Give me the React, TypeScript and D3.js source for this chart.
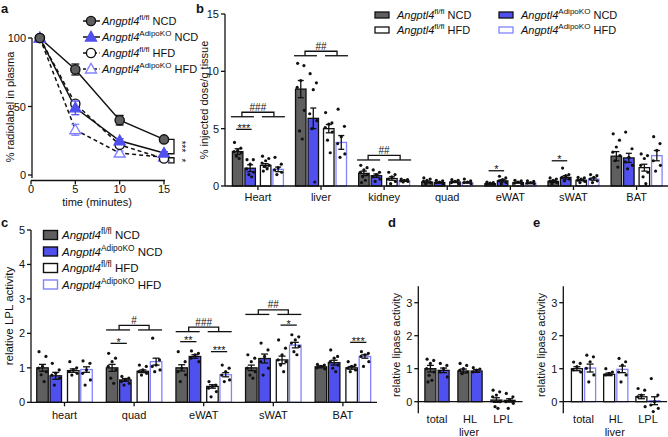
import React, { useEffect } from "react";
import * as d3 from "d3";

const FONT = "'Liberation Sans', Arial, Helvetica, sans-serif";
const INK = "#111";
const GRAY = "#5f5f5f";
const BLUE = "#5050ee";
const LBLUE = "#8383ff";
const FILL = [GRAY, BLUE, "#ffffff", "#ffffff"];
const STROKE = [INK, INK, INK, LBLUE];
const groupSup = ["fl/fl", "AdipoKO", "fl/fl", "AdipoKO"];
const groupDiet = ["NCD", "NCD", "HFD", "HFD"];

// ---------- panel a ----------
const aTimes = [1, 5, 10, 15];
const aFlNCD = [100, 77, 40, 26];
const aKoNCD = [100, 49, 25, 16];
const aFlHFD = [100, 52, 22, 12];
const aKoHFD = [100, 33, 16, 13];
const aFlNCDErr = [0, 4, 3.5, 1.5];
const aKoNCDErr = [0, 5, 1.5, 1];
const aFlHFDErr = [0, 2, 2, 1];
const aKoHFDErr = [0, 4, 1.5, 1];
const aXTicks = [0, 5, 10, 15];
const aYTicks = [0, 50, 100];

// ---------- panel b ----------
const bCats = ["Heart", "liver", "kidney", "quad", "eWAT", "sWAT", "BAT"];
const bFlNCD = [3.0, 8.45, 1.1, 0.35, 0.2, 0.4, 2.6];
const bKoNCD = [1.55, 5.9, 0.9, 0.3, 0.45, 0.75, 2.45];
const bFlHFD = [1.8, 5.0, 0.65, 0.35, 0.3, 0.5, 1.6];
const bKoHFD = [1.45, 3.8, 0.45, 0.3, 0.25, 0.6, 2.65];
const bFlNCDErr = [0.25, 0.75, 0.2, 0.08, 0.04, 0.08, 0.4];
const bKoNCDErr = [0.3, 0.9, 0.15, 0.05, 0.1, 0.15, 0.4];
const bFlHFDErr = [0.15, 0.36, 0.15, 0.05, 0.05, 0.05, 0.3];
const bKoHFDErr = [0.2, 0.6, 0.05, 0.05, 0.05, 0.1, 0.45];
const bDotsFlNCD = [
  [3.8, 3.3, 3.1, 3.0, 2.9, 2.6, 2.4],
  [10.7, 10.5, 9.2, 8.6, 6.6, 4.8, 4.1],
  [1.8, 1.6, 1.4, 1.2, 1.0, 0.8, 0.5, 0.3],
  [0.7, 0.6, 0.5, 0.4, 0.3, 0.2],
  [0.35, 0.3, 0.25, 0.2, 0.15],
  [0.7, 0.6, 0.5, 0.4, 0.3, 0.2],
  [4.55, 4.0, 3.4, 2.95, 2.65, 2.2, 1.65],
];
const bDotsKoNCD = [
  [2.3, 2.3, 1.9, 1.5, 1.2, 1.0, 0.8],
  [9.8, 9.0, 8.4, 6.3, 5.7, 5.0, 0.35],
  [1.4, 1.2, 1.0, 0.8, 0.6, 0.4],
  [0.5, 0.45, 0.35, 0.3, 0.2],
  [0.85, 0.7, 0.55, 0.45, 0.3, 0.2],
  [1.56, 1.0, 0.9, 0.75, 0.6, 0.45],
  [4.7, 3.25, 2.5, 2.1, 1.8, 1.5],
];
const bDotsFlHFD = [
  [2.6, 2.4, 2.2, 2.0, 1.8, 1.7, 1.5, 1.3],
  [6.4, 5.5, 5.4, 5.1, 4.7, 4.0, 2.9],
  [1.2, 1.0, 0.8, 0.6, 0.4, 0.2],
  [0.55, 0.5, 0.4, 0.3, 0.2],
  [0.5, 0.45, 0.35, 0.25, 0.2],
  [0.75, 0.7, 0.6, 0.5, 0.4, 0.3],
  [2.8, 2.65, 2.4, 1.8, 1.2, 0.8, 0.2],
];
const bDotsKoHFD = [
  [2.5, 1.9, 1.6, 1.4, 1.2, 1.0],
  [6.7, 5.2, 4.3, 3.7, 2.8, 2.5],
  [0.6, 0.55, 0.5, 0.45, 0.4, 0.35],
  [0.6, 0.45, 0.35, 0.3, 0.2],
  [0.45, 0.4, 0.3, 0.25, 0.2],
  [1.0, 0.9, 0.75, 0.6, 0.45, 0.3],
  [4.3, 3.7, 3.1, 2.2, 1.8, 1.3],
];
const bYTicks = [0, 5, 10, 15];
const bPairSig = [
  { cat: "Heart", a: 0, b: 1, y: 4.94, label: "***" },
  { cat: "eWAT", a: 0, b: 1, y: 1.33, label: "*" },
  { cat: "sWAT", a: 0, b: 1, y: 2.2, label: "*" },
];
const bGroupSig = [
  { cat: "Heart", y: 6.04, label: "###" },
  { cat: "liver", y: 11.36, label: "##" },
  { cat: "kidney", y: 2.27, label: "##" },
];

// ---------- panel c ----------
const cCats = ["heart", "quad", "eWAT", "sWAT", "BAT"];
const cFlNCD = [1.0, 1.0, 1.0, 1.0, 1.03];
const cKoNCD = [0.77, 0.65, 1.33, 1.27, 1.15];
const cFlHFD = [0.92, 0.9, 0.46, 1.23, 1.0];
const cKoHFD = [0.95, 1.18, 0.8, 1.66, 1.33];
const cFlNCDErr = [0.1, 0.1, 0.09, 0.08, 0.03];
const cKoNCDErr = [0.1, 0.04, 0.05, 0.13, 0.07];
const cFlHFDErr = [0.05, 0.04, 0.05, 0.11, 0.04];
const cKoHFDErr = [0.08, 0.1, 0.06, 0.08, 0.05];
const cDotsFlNCD = [
  [1.47, 1.33, 1.04, 0.99, 0.89, 0.8, 0.6],
  [1.42, 1.28, 1.18, 1.04, 0.94, 0.7, 0.55],
  [1.47, 1.18, 0.99, 0.89, 0.8, 0.6],
  [1.38, 1.28, 1.18, 0.99, 0.89, 0.79, 0.7],
  [1.1, 1.08, 1.04, 1.0, 0.97],
];
const cDotsKoNCD = [
  [1.13, 0.94, 0.84, 0.79, 0.7, 0.5],
  [0.75, 0.7, 0.65, 0.6, 0.55, 0.5],
  [1.49, 1.42, 1.38, 1.28, 1.18],
  [1.72, 1.52, 1.33, 1.18, 0.99, 0.79],
  [1.52, 1.33, 1.28, 1.18, 1.08, 0.99, 0.89],
];
const cDotsFlHFD = [
  [1.18, 1.0, 0.94, 0.89, 0.84, 0.79],
  [1.08, 1.04, 0.94, 0.89, 0.84, 0.79],
  [0.6, 0.5, 0.46, 0.41, 0.31, 0.16],
  [1.81, 1.57, 1.38, 1.23, 1.18, 1.08, 0.89],
  [1.18, 1.08, 1.04, 0.99, 0.94, 0.89],
];
const cDotsKoHFD = [
  [1.2, 1.13, 0.94, 0.84, 0.65, 0.5],
  [1.86, 1.23, 1.08, 1.04, 0.94, 0.89],
  [1.08, 0.99, 0.89, 0.79, 0.65, 0.6],
  [1.96, 1.9, 1.81, 1.72, 1.62, 1.47, 1.38],
  [1.47, 1.42, 1.38, 1.33, 1.18, 1.04],
];
const cYTicks = [0, 1, 2, 3, 4, 5];
const cPairSig = [
  { cat: "quad", a: 0, b: 1, y: 1.71, label: "*" },
  { cat: "eWAT", a: 0, b: 1, y: 1.76, label: "**" },
  { cat: "eWAT", a: 2, b: 3, y: 1.47, label: "***" },
  { cat: "sWAT", a: 2, b: 3, y: 2.24, label: "*" },
  { cat: "BAT", a: 2, b: 3, y: 1.74, label: "***" },
];
const cGroupSig = [
  { cat: "quad", y: 2.1, label: "#" },
  { cat: "eWAT", y: 2.05, label: "###" },
  { cat: "sWAT", y: 2.55, label: "##" },
];

// ---------- panels d, e ----------
const deCats = ["total", "HL", "LPL"];
const dFlNCD = [1.0, 0.93, 0.05];
const dKoNCD = [0.95, 0.93, 0.04];
const dFlNCDErr = [0.1, 0.06, 0.07];
const dKoNCDErr = [0.07, 0.04, 0.05];
const dDotsFlNCD = [
  [1.29, 1.25, 1.16, 1.0, 0.9, 0.8, 0.65, 0.6],
  [1.16, 1.1, 1.0, 0.95, 0.9, 0.85],
  [0.35, 0.3, 0.2, 0.15, 0.0, -0.15, -0.2],
];
const dDotsKoNCD = [
  [1.16, 1.1, 1.0, 0.9, 0.75],
  [1.03, 0.99, 0.96, 0.9],
  [0.25, 0.15, 0.05, 0.0, -0.05, -0.2],
];
const eFlHFD = [1.0, 0.83, 0.15];
const eKoHFD = [1.02, 0.98, 0.03];
const eFlHFDErr = [0.06, 0.04, 0.06];
const eKoHFDErr = [0.12, 0.1, 0.12];
const eDotsFlHFD = [
  [1.2, 1.16, 1.06, 0.96, 0.9],
  [1.0, 0.9, 0.86, 0.81],
  [0.4, 0.35, 0.2, 0.15, -0.15],
];
const eDotsKoHFD = [
  [1.41, 1.36, 1.21, 1.01, 0.81, 0.6],
  [1.31, 1.21, 1.11, 0.9, 0.81, 0.6],
  [0.7, 0.2, 0.0, -0.1, -0.2, -0.3],
];
const deYTicks = [0, 1, 2, 3];

// ---------- helpers ----------
const JIT = [-0.3, 0.3, 0, -0.34, 0.34, -0.12, 0.14, -0.22, 0.22];

function GenoLabel({ x, y, sup, diet, fs = 11 }: any) {
  return (
    <text x={x} y={y} fontSize={fs} fontFamily={FONT} fill={INK}>
      <tspan fontStyle="italic">Angptl4</tspan>
      <tspan fontSize={fs * 0.73} dy={-fs * 0.42}>{sup}</tspan>
      <tspan dy={fs * 0.42}>{"\u00a0" + diet}</tspan>
    </text>
  );
}

function YAxis({ x, y, ticks, y0, y1, fs = 11 }: any) {
  return (
    <g>
      <line x1={x} x2={x} y1={y0} y2={y1} stroke={INK} strokeWidth={1.3} />
      {ticks.map((t: number) => (
        <g key={t}>
          <line x1={x - 4} x2={x} y1={y(t)} y2={y(t)} stroke={INK} strokeWidth={1.3} />
          <text x={x - 6} y={y(t) + 4} textAnchor="end" fontSize={fs} fontFamily={FONT} fill={INK}>
            {t}
          </text>
        </g>
      ))}
    </g>
  );
}

function BarGroups({ cats, x, y, series, errs, dots, groups, offsets, barW, capW, dotR }: any) {
  const y0 = y(0);
  return (
    <g>
      {cats.map((c: string, ci: number) => {
        const cx = x(c) + x.bandwidth() / 2;
        return (
          <g key={c}>
            {groups.map((g: number, si: number) => {
              const bx = cx + offsets[si];
              const m = series[si][ci];
              const ym = y(m);
              return (
                <rect key={"r" + si} x={bx - barW / 2} y={Math.min(y0, ym)} width={barW}
                  height={Math.abs(y0 - ym)} fill={FILL[g]} stroke={STROKE[g]} strokeWidth={1.3} />
              );
            })}
            {groups.map((g: number, si: number) => {
              const bx = cx + offsets[si];
              return dots[si][ci].map((v: number, k: number) => (
                <circle key={"d" + si + "_" + k} cx={bx + JIT[k % JIT.length] * barW} cy={y(v)} r={dotR} fill={INK} />
              ));
            })}
            {groups.map((g: number, si: number) => {
              const bx = cx + offsets[si];
              const m = series[si][ci];
              const e = errs[si][ci];
              const ya = y(m + e), yb = y(m - e);
              return (
                <g key={"e" + si} stroke={INK} strokeWidth={1.3}>
                  <line x1={bx} x2={bx} y1={ya} y2={yb} />
                  <line x1={bx - capW / 2} x2={bx + capW / 2} y1={ya} y2={ya} />
                  <line x1={bx - capW / 2} x2={bx + capW / 2} y1={yb} y2={yb} />
                </g>
              );
            })}
          </g>
        );
      })}
    </g>
  );
}

function PairSig({ sig, x, y, offsets }: any) {
  return (
    <g>
      {sig.map((s: any, i: number) => {
        const cx = x(s.cat) + x.bandwidth() / 2;
        const xa = cx + offsets[s.a] - 1.5, xb = cx + offsets[s.b] + 1.5;
        const yy = y(s.y);
        return (
          <g key={i}>
            <line x1={xa} x2={xb} y1={yy} y2={yy} stroke={INK} strokeWidth={1.3} />
            <text x={(xa + xb) / 2} y={yy + 2.5} textAnchor="middle" fontSize={11} fontFamily={FONT} fill={INK}>{s.label}</text>
          </g>
        );
      })}
    </g>
  );
}

function GroupSig({ sig, x, y, outer, inner, vert }: any) {
  return (
    <g>
      {sig.map((s: any, i: number) => {
        const cx = x(s.cat) + x.bandwidth() / 2;
        const yl = y(s.y);
        const yt = yl - 4.5;
        return (
          <g key={i} stroke={INK} strokeWidth={1.3} fill="none">
            <line x1={cx - outer} x2={cx - inner} y1={yl} y2={yl} />
            <line x1={cx + inner} x2={cx + outer} y1={yl} y2={yl} />
            <polyline points={`${cx - vert},${yl} ${cx - vert},${yt} ${cx + vert},${yt} ${cx + vert},${yl}`} />
            <text x={cx} y={yt - 1.5} textAnchor="middle" fontSize={10} fontFamily={FONT} fill={INK} stroke="none">{s.label}</text>
          </g>
        );
      })}
    </g>
  );
}

function CatLabels({ cats, x, yPos, tick, yAxis }: any) {
  return (
    <g>
      {cats.map((c: string) => {
        const cx = x(c) + x.bandwidth() / 2;
        return (
          <g key={c}>
            {tick && <line x1={cx} x2={cx} y1={yAxis} y2={yAxis + 4} stroke={INK} strokeWidth={1.3} />}
            <text x={cx} y={yPos} textAnchor="middle" fontSize={11} fontFamily={FONT} fill={INK}>{c}</text>
          </g>
        );
      })}
    </g>
  );
}

function Marker({ g, x, y }: any) {
  if (g === 0 || g === 2) {
    return <circle cx={x} cy={y} r={4.6} fill={g === 0 ? GRAY : "#fff"} stroke={INK} strokeWidth={1.4} />;
  }
  const path = d3.symbol().type(d3.symbolTriangle).size(52)()!;
  return (
    <path d={path} transform={`translate(${x},${y + 0.8})`} fill={g === 1 ? BLUE : "#fff"}
      stroke={g === 1 ? BLUE : LBLUE} strokeWidth={1.4} />
  );
}

function PanelA() {
  const x = d3.scaleLinear().domain([0, 15]).range([31, 164]);
  const y = d3.scaleLinear().domain([0, 100]).range([175, 38]);
  const series = [aFlNCD, aKoNCD, aFlHFD, aKoHFD];
  const errs = [aFlNCDErr, aKoNCDErr, aFlHFDErr, aKoHFDErr];
  const line = d3.line<number>().x((_, i) => x(aTimes[i])).y((v) => y(v));
  const drawOrder = [3, 2, 1, 0];
  const axY = 180.5;
  return (
    <g>
      <YAxis x={32} y={y} ticks={aYTicks} y0={y(100)} y1={y(0) + 3} />
      <line x1={31} x2={165} y1={axY} y2={axY} stroke={INK} strokeWidth={1.3} />
      {aXTicks.map((t) => (
        <g key={t}>
          <line x1={x(t)} x2={x(t)} y1={axY} y2={axY + 4} stroke={INK} strokeWidth={1.3} />
          <text x={x(t)} y={193} textAnchor="middle" fontSize={11} fontFamily={FONT} fill={INK}>{t}</text>
        </g>
      ))}
      <text x={97} y={206} textAnchor="middle" fontSize={11} fontFamily={FONT} fill={INK}>time (minutes)</text>
      <text transform="translate(14,107) rotate(-90)" textAnchor="middle" fontSize={11} fontFamily={FONT} fill={INK}>% radiolabel in plasma</text>
      {drawOrder.map((g) => (
        <path key={"l" + g} d={line(series[g])!} fill="none" stroke={INK} strokeWidth={1.5}
          strokeDasharray={g >= 2 ? "4,3" : undefined} />
      ))}
      {drawOrder.map((g) => (
        <g key={"p" + g}>
          {series[g].map((v, i) => {
            const e = errs[g][i];
            const xx = x(aTimes[i]);
            return e > 0 ? (
              <g key={i} stroke={g === 3 ? LBLUE : g === 1 ? BLUE : INK} strokeWidth={1.3}>
                <line x1={xx} x2={xx} y1={y(v + e)} y2={y(v - e)} />
                <line x1={xx - 4} x2={xx + 4} y1={y(v + e)} y2={y(v + e)} />
                <line x1={xx - 4} x2={xx + 4} y1={y(v - e)} y2={y(v - e)} />
              </g>
            ) : null;
          })}
          {series[g].map((v, i) => <Marker key={i} g={g} x={x(aTimes[i])} y={y(v)} />)}
        </g>
      ))}
      {/* significance brackets */}
      <polyline points={`${168},${y(26)} ${174},${y(26)} ${174},${y(15.5)} ${168},${y(15.5)}`} fill="none" stroke={INK} strokeWidth={1.3} />
      <text transform={`translate(177.5,${(y(26) + y(15.5)) / 2}) rotate(90)`} textAnchor="middle" fontSize={10} fontFamily={FONT} fill={INK}>***</text>
      <polyline points={`${168},${y(12.6)} ${174},${y(12.6)} ${174},${y(8.8)} ${168},${y(8.8)}`} fill="none" stroke={INK} strokeWidth={1.3} />
      <text transform={`translate(177.5,${(y(12.6) + y(8.8)) / 2}) rotate(90)`} textAnchor="middle" fontSize={10} fontFamily={FONT} fill={INK}>*</text>
      {/* legend */}
      {[0, 1, 2, 3].map((g) => {
        const ly = 21 + g * 16;
        return (
          <g key={"lg" + g}>
            <line x1={83} x2={100} y1={ly} y2={ly} stroke={INK} strokeWidth={1.5} strokeDasharray={g >= 2 ? "3,2.5" : undefined} />
            <Marker g={g} x={91} y={ly} />
            <GenoLabel x={102} y={ly + 4} sup={groupSup[g]} diet={groupDiet[g]} />
          </g>
        );
      })}
    </g>
  );
}

function PanelB() {
  const x = d3.scaleBand<string>().domain(bCats).range([226.35, 668.15]);
  const y = d3.scaleLinear().domain([0, 15]).range([186, 14]);
  const offsets = [-20.25, -7.75, 7.75, 20.25];
  return (
    <g>
      <BarGroups cats={bCats} x={x} y={y} series={[bFlNCD, bKoNCD, bFlHFD, bKoHFD]}
        errs={[bFlNCDErr, bKoNCDErr, bFlHFDErr, bKoHFDErr]}
        dots={[bDotsFlNCD, bDotsKoNCD, bDotsFlHFD, bDotsKoHFD]}
        groups={[0, 1, 2, 3]} offsets={offsets} barW={10.5} capW={6} dotR={1.6} />
      <YAxis x={225} y={y} ticks={bYTicks} y0={y(15)} y1={y(0)} />
      <line x1={225} x2={668} y1={y(0)} y2={y(0)} stroke={INK} strokeWidth={1.3} />
      <CatLabels cats={bCats} x={x} yPos={201} tick yAxis={y(0)} />
      <PairSig sig={bPairSig} x={x} y={y} offsets={offsets} />
      <GroupSig sig={bGroupSig} x={x} y={y} outer={27} inner={4} vert={16} />
      <text transform="translate(208,100) rotate(-90)" textAnchor="middle" fontSize={11} fontFamily={FONT} fill={INK}>% injected dose/g tissue</text>
      {[0, 2, 1, 3].map((g, i) => {
        const col = i < 2 ? 0 : 1;
        const row = i % 2;
        const lx = col === 0 ? 375 : 499;
        const ly = 15 + row * 15;
        return (
          <g key={g}>
            <rect x={lx} y={ly - 3} width={14} height={6} fill={FILL[g]} stroke={STROKE[g]} strokeWidth={1.3} />
            <GenoLabel x={lx + 22} y={ly + 4} sup={groupSup[g]} diet={groupDiet[g]} />
          </g>
        );
      })}
    </g>
  );
}

function PanelC() {
  const x = d3.scaleBand<string>().domain(cCats).range([29.7, 377.7]);
  const y = d3.scaleLinear().domain([0, 5]).range([402.3, 230]);
  const offsets = [-22, -8.75, 8.75, 22];
  return (
    <g>
      <BarGroups cats={cCats} x={x} y={y} series={[cFlNCD, cKoNCD, cFlHFD, cKoHFD]}
        errs={[cFlNCDErr, cKoNCDErr, cFlHFDErr, cKoHFDErr]}
        dots={[cDotsFlNCD, cDotsKoNCD, cDotsFlHFD, cDotsKoHFD]}
        groups={[0, 1, 2, 3]} offsets={offsets} barW={11.5} capW={7} dotR={1.6} />
      <YAxis x={31} y={y} ticks={cYTicks} y0={y(5)} y1={y(0)} />
      <line x1={31} x2={377} y1={y(0)} y2={y(0)} stroke={INK} strokeWidth={1.3} />
      <CatLabels cats={cCats} x={x} yPos={419} tick yAxis={y(0)} />
      <PairSig sig={cPairSig} x={x} y={y} offsets={offsets} />
      <GroupSig sig={cGroupSig} x={x} y={y} outer={28} inner={4} vert={15} />
      <text transform="translate(13,316) rotate(-90)" textAnchor="middle" fontSize={11.5} fontFamily={FONT} fill={INK}>relative LPL activity</text>
      {[0, 1, 2, 3].map((g) => {
        const ly = 235 + g * 16.5;
        return (
          <g key={g}>
            <rect x={43.5} y={ly - 4.5} width={14} height={9} fill={FILL[g]} stroke={STROKE[g]} strokeWidth={1.4} />
            <GenoLabel x={62} y={ly + 4} sup={groupSup[g]} diet={groupDiet[g]} fs={11.5} />
          </g>
        );
      })}
    </g>
  );
}

function PanelDE({ axisX, range, series, errs, dots, groups }: any) {
  const x = d3.scaleBand<string>().domain(deCats).range(range);
  const y = d3.scaleLinear().domain([0, 3]).range([401.7, 302.7]);
  const offsets = [-6.6, 6.6];
  const xEnd = range[1] + 3;
  const cx = x("HL")! + x.bandwidth() / 2;
  return (
    <g>
      <BarGroups cats={deCats} x={x} y={y} series={series} errs={errs} dots={dots}
        groups={groups} offsets={offsets} barW={11} capW={7} dotR={1.6} />
      <YAxis x={axisX} y={y} ticks={deYTicks} y0={y(3.5)} y1={y(-0.35)} />
      <line x1={axisX} x2={xEnd} y1={y(0)} y2={y(0)} stroke={INK} strokeWidth={1.3} />
      <CatLabels cats={deCats} x={x} yPos={423} yAxis={y(0)} />
      <text x={cx - 1} y={436} textAnchor="middle" fontSize={11} fontFamily={FONT} fill={INK}>liver</text>
      <text transform={`translate(${axisX - 18},345) rotate(-90)`} textAnchor="middle" fontSize={11} fontFamily={FONT} fill={INK}>relative lipase activity</text>
    </g>
  );
}

export default function App() {
  useEffect(() => {
    document.body.style.margin = "0";
  }, []);
  return (
    <svg width={668} height={437} viewBox="0 0 668 437"
      style={{ position: "absolute", left: 0, top: 0, display: "block", background: "#fff" }}>
      <rect x={0} y={0} width={668} height={437} fill="#fff" />
      <PanelA />
      <PanelB />
      <PanelC />
      <PanelDE axisX={418.3} range={[420.5, 519.5]} series={[dFlNCD, dKoNCD]} errs={[dFlNCDErr, dKoNCDErr]}
        dots={[dDotsFlNCD, dDotsKoNCD]} groups={[0, 1]} />
      <PanelDE axisX={563.3} range={[567.4, 664.1]} series={[eFlHFD, eKoHFD]} errs={[eFlHFDErr, eKoHFDErr]}
        dots={[eDotsFlHFD, eDotsKoHFD]} groups={[2, 3]} />
      {[["a", 1, 13], ["b", 196, 13], ["c", 1, 227], ["d", 388, 227], ["e", 533, 227]].map(([l, lx, ly]) => (
        <text key={l as string} x={lx as number} y={ly as number} fontSize={13} fontWeight="bold" fontFamily={FONT} fill={INK}>{l}</text>
      ))}
    </svg>
  );
}
